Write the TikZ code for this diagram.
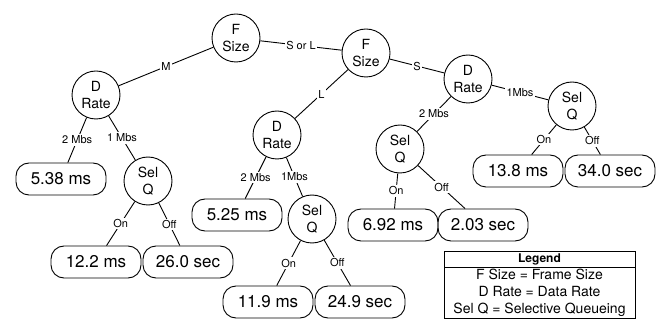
\documentclass[tikz,border=0pt]{standalone}
\usepackage{fontspec}
\setmainfont{TeX Gyre Heros}
\usepackage{tikz}
\usetikzlibrary{positioning,shapes.multipart}

\begin{document}
\begin{tikzpicture}[
    on grid,
    test/.style={circle, draw, line width=0.9pt, minimum size=48pt, inner sep=0pt, align=center, font=\fontsize{14}{16.5}\selectfont},
    result/.style={rectangle, draw, line width=0.9pt, rounded corners=13pt, minimum width=90pt, minimum height=32pt, font=\fontsize{17}{20}\selectfont},
    edge/.style={line width=0.9pt},
    lbl/.style={fill=white, inner sep=1.5pt, font=\fontsize{11}{12}\selectfont}
  ]
    \useasboundingbox (0,0) rectangle (658pt,-320pt);
    % decision nodes
    \node[test] (fs1) at (236pt,-38pt) {F\\Size};
    \node[test, below right=15pt and 130pt of fs1] (fs2) {F\\Size};
    \node[test, below left=57pt and 140pt of fs1] (dr1) {D\\Rate};
    \node[test, below left=82pt and 89pt of fs2] (dr2) {D\\Rate};
    \node[test, below right=26pt and 102pt of fs2] (dr3) {D\\Rate};
    \node[test, below right=86pt and 52pt of dr1] (sq1) {Sel\\Q};
    \node[test, below right=84pt and 35pt of dr2] (sq2) {Sel\\Q};
    \node[test, below left=70pt and 68pt of dr3] (sq3) {Sel\\Q};
    \node[test, below right=27pt and 104pt of dr3] (sq4) {Sel\\Q};
    % results
    \node[result, below left=84pt and 35pt of dr1] (r538) {5.38 ms};
    \node[result, below left=81pt and 52pt of sq1] (r122) {12.2 ms};
    \node[result, below right=81pt and 40pt of sq1] (r260) {26.0 sec};
    \node[result, below left=80pt and 40pt of dr2] (r525) {5.25 ms};
    \node[result, below left=83pt and 44pt of sq2] (r119) {11.9 ms};
    \node[result, below right=83pt and 48pt of sq2] (r249) {24.9 sec};
    \node[result, below left=76pt and 7pt of sq3] (r692) {6.92 ms};
    \node[result, below right=76pt and 83pt of sq3] (r203) {2.03 sec};
    \node[result, below left=65pt and 54pt of sq4] (r138) {13.8 ms};
    \node[result, below right=65pt and 38pt of sq4] (r340) {34.0 sec};
    % branches
    \draw[edge] (fs1) -- node[lbl] {M} (dr1);
    \draw[edge] (fs1) -- node[lbl] {S or L} (fs2);
    \draw[edge] (fs2) -- node[lbl] {L} (dr2);
    \draw[edge] (fs2) -- node[lbl] {S} (dr3);
    \draw[edge] (dr1) -- node[lbl] {2 Mbs} (r538);
    \draw[edge] (dr1) -- node[lbl] {1 Mbs} (sq1);
    \draw[edge] (sq1) -- node[lbl] {On} (r122);
    \draw[edge] (sq1) -- node[lbl] {Off} (r260);
    \draw[edge] (dr2) -- node[lbl] {2 Mbs} (r525);
    \draw[edge] (dr2) -- node[lbl] {1Mbs} (sq2);
    \draw[edge] (sq2) -- node[lbl] {On} (r119);
    \draw[edge] (sq2) -- node[lbl] {Off} (r249);
    \draw[edge] (dr3) -- node[lbl] {2 Mbs} (sq3);
    \draw[edge] (dr3) -- node[lbl] {1Mbs} (sq4);
    \draw[edge] (sq3) -- node[lbl] {On} (r692);
    \draw[edge] (sq3) -- node[lbl] {Off} (r203);
    \draw[edge] (sq4) -- node[lbl] {On} (r138);
    \draw[edge] (sq4) -- node[lbl] {Off} (r340);
    % legend
    \node[rectangle split, rectangle split parts=2, draw, line width=0.8pt, minimum width=191pt, inner sep=1.5pt, align=center, font=\fontsize{14}{17}\selectfont] (legend) at (539.5pt,-285pt)
      {{\fontsize{12}{14}\selectfont\bfseries Legend}
       \nodepart{two} F Size = Frame Size\\D Rate = Data Rate\\Sel Q = Selective Queueing};
  \end{tikzpicture}
\end{document}
